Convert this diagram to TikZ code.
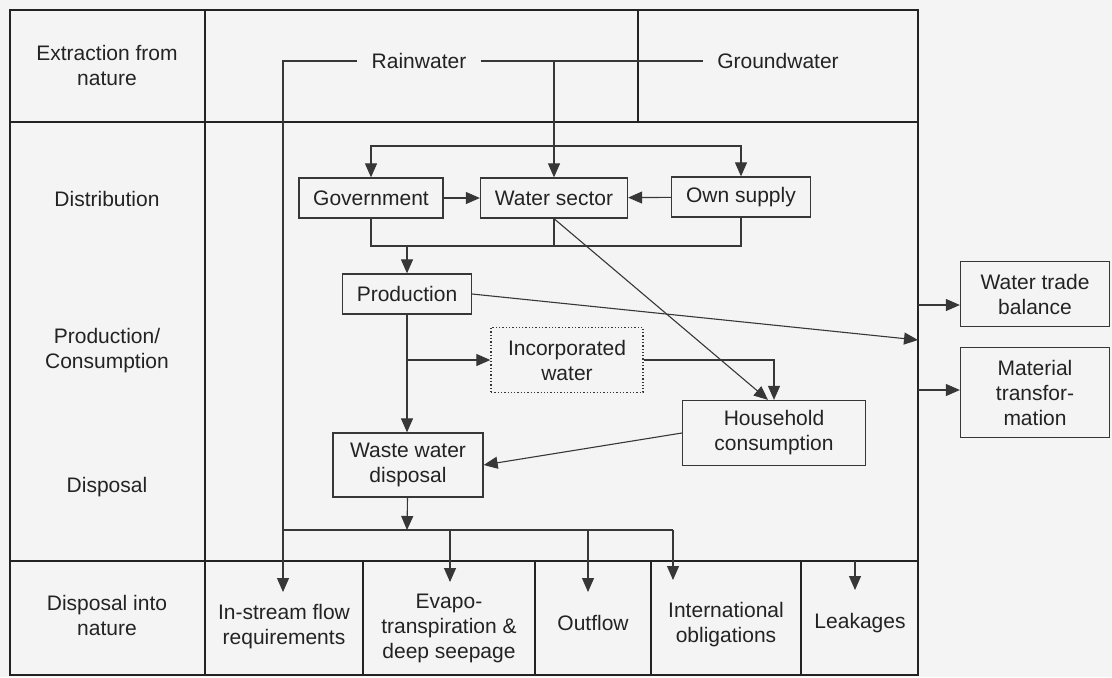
\documentclass[tikz,border=0pt]{standalone}
\usepackage{fontspec}
\setmainfont{Liberation Sans}
\usetikzlibrary{arrows.meta,positioning}
\definecolor{InkGray}{RGB}{35,35,35}
\definecolor{LineGray}{RGB}{55,55,55}
\definecolor{PaperGray}{RGB}{244,244,244}
\begin{document}
\begin{tikzpicture}[
   x=0.5pt, y=-0.5pt,
   font=\fontsize{10.5}{12.5}\selectfont,
   text=InkGray,
   frame/.style={draw=InkGray,line width=1.2pt},
   flow/.style={rectangle,draw=LineGray,line width=0.65pt,fill=PaperGray,
                align=center,inner sep=2pt},
   lbl/.style={align=center,inner sep=1pt},
   src/.style={inner xsep=7pt,inner ysep=1pt},
   line/.style={draw=LineGray,line width=0.55pt},
   arr/.style={line,-{Triangle[length=7pt,width=6pt]}}]
   \fill[PaperGray] (0,0) rectangle (1112,677);
   \useasboundingbox (0,0) rectangle (1112,677);
   % table frame
   \draw[frame] (10,10) rectangle (918,675);
   \draw[frame] (10,122) -- (918,122);
   \draw[frame] (10,561) -- (918,561);
   \draw[frame] (205,10) -- (205,675);
   \draw[frame] (638,10) -- (638,122);
   \foreach \x in {363,535,651,801}
      \draw[frame] (\x,561) -- (\x,675);
   % row labels
   \node[lbl] (l-extr) at (107,65)  {Extraction from\\nature};
   \node[lbl] (l-dist) at (107,199) {Distribution};
   \node[lbl] (l-prod) at (107,351) {Production/\\Consumption};
   \node[lbl] (l-disp) at (107,487) {Disposal};
   \node[lbl] (l-nat)  at (107,615) {Disposal into\\nature};
   % sources
   \node[src] (rain)   at (419,61) {Rainwater};
   \node[src] (ground) at (778,61) {Groundwater};
   % boxes
   \node[flow,minimum width=72pt,minimum height=20pt]   (gov)  at (371,198) {Government};
   \node[flow,minimum width=73.5pt,minimum height=20pt] (wsec) at (554,198) {Water sector};
   \node[flow,minimum width=69.5pt,minimum height=20pt] (own)  at (741,197) {Own supply};
   \node[flow,minimum width=64.5pt,minimum height=20pt] (prod) at (407,294) {Production};
   \node[flow,densely dotted,minimum width=76pt,minimum height=32.5pt] (inc) at (567,360) {Incorporated\\water};
   \node[flow,minimum width=75pt,minimum height=32pt]   (waste) at (408,465) {Waste water\\disposal};
   \node[flow,minimum width=91.5pt,minimum height=32.5pt] (house) at (774,433) {Household\\consumption};
   \node[flow,minimum width=74.5pt,minimum height=32.5pt] (trade) at (1035,294) {Water trade\\balance};
   \node[flow,minimum width=74.5pt,minimum height=45pt,below=10pt of trade] (mat) {Material\\transfor-\\mation};
   % disposal into nature
   \node[lbl] (instr) at (284,627) {In-stream flow\\requirements};
   \node[lbl] (evap)  at (449,628) {Evapo-\\transpiration \&\\deep seepage};
   \node[lbl] (outfl) at (593,623) {Outflow};
   \node[lbl] (intl)  at (726,625) {International\\obligations};
   \node[lbl] (leak)  at (860,623) {Leakages};
   % junctions and free ends
   \coordinate (rsplit) at (554,61);
   \coordinate (dtop) at (554,146);
   \coordinate (dbot) at (554,246);
   \coordinate (pinc) at (407,360);
   \coordinate (wbus) at (407,530);
   \coordinate (wb-r) at (673,530);
   \coordinate (instr-in) at (283,592);
   \coordinate (evap-in) at (450,582);
   \coordinate (outfl-in) at (588,592);
   \coordinate (intl-in) at (673,580);
   \coordinate (leak-top) at (855,561);
   \coordinate (leak-in) at (855,590);
   \coordinate (trade-in) at (918,340);
   \coordinate (fr-trade) at (918,305);
   \coordinate (fr-mat) at (918,390);
   % extraction
   \draw[arr] (rain.west) -| (instr-in);
   \draw[line] (rain.east) -- (ground.west);
   \draw[arr] (rsplit) -- (wsec);
   % distribution
   \draw[arr] (dtop) -| (gov);
   \draw[arr] (dtop) -| (own);
   \draw[arr] (gov) -- (wsec);
   \draw[arr] (own) -- (wsec);
   \draw[line] (gov) |- (dbot) -| (own);
   \draw[line] (wsec) -- (dbot);
   \draw[arr] (prod |- dbot) -- (prod);
   % production / consumption
   \draw[arr] (prod.south) -- (prod.south |- waste.north);
   \draw[arr] (pinc) -- (inc);
   \draw[arr] (inc) -| (house);
   \draw[arr] (wsec.south) -- ([xshift=-3pt]house.north);
   \draw[arr] (house.west) -- (waste.east);
   \draw[arr] (prod.east) -- (trade-in);
   \draw[arr] (fr-trade) -- (fr-trade -| trade.west);
   \draw[arr] (fr-mat) -- (fr-mat -| mat.west);
   % disposal
   \draw[arr] (waste) -- (wbus);
   \draw[line] (instr-in |- wbus) -- (wb-r);
   \draw[arr] (evap-in |- wbus) -- (evap-in);
   \draw[arr] (outfl-in |- wbus) -- (outfl-in);
   \draw[arr] (wb-r) -- (intl-in);
   \draw[arr] (leak-top) -- (leak-in);
\end{tikzpicture}
\end{document}
